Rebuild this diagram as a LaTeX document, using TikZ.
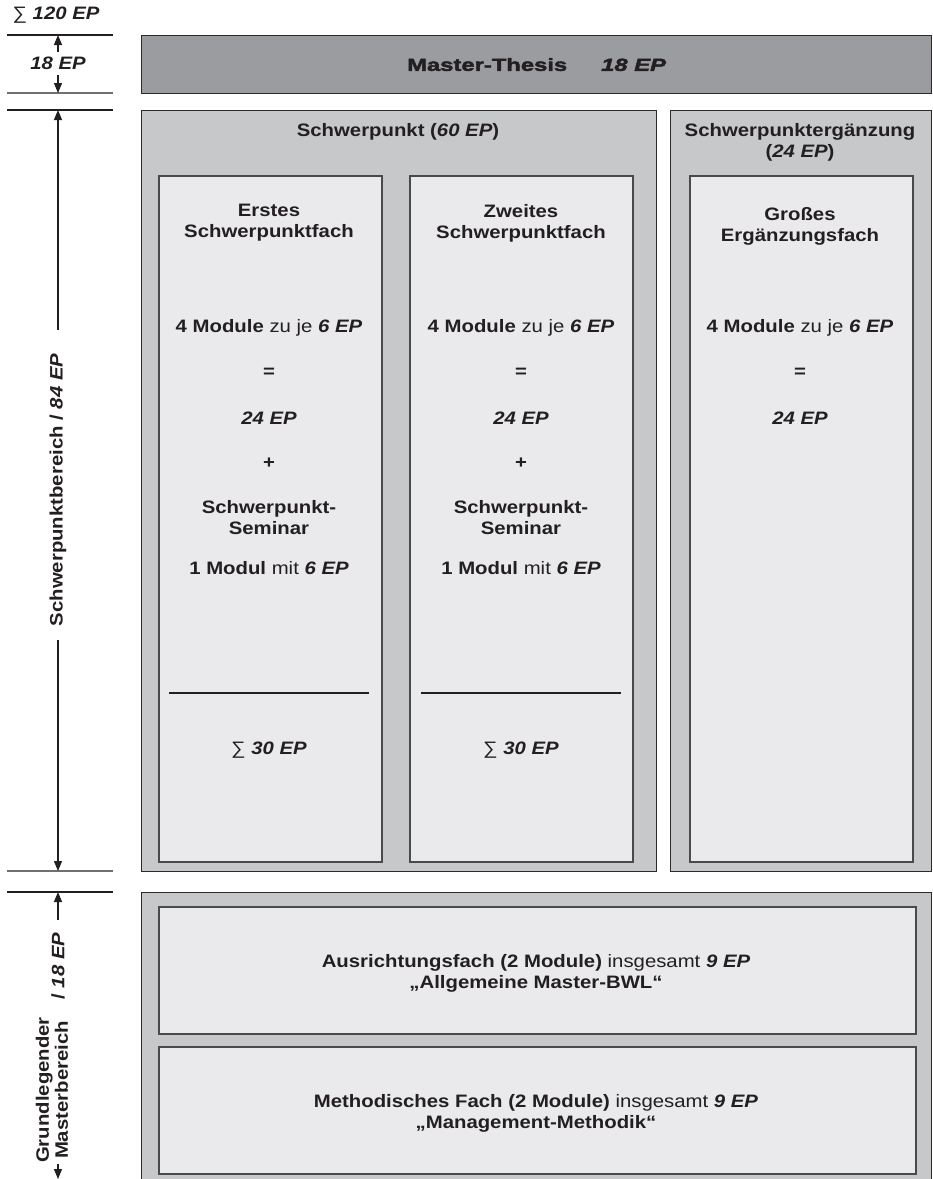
\documentclass[tikz,border=0pt]{standalone}
\usepackage{fontspec}
\setmainfont{Liberation Sans}[FakeStretch=1.13]
\newfontfamily\blackfont{Liberation Sans}[FakeStretch=1.36,FakeBold=2.5]
\usetikzlibrary{arrows.meta}
\definecolor{thesisc}{HTML}{9B9CA0}
\definecolor{outerc}{HTML}{C7C8CA}
\definecolor{innerc}{HTML}{EAEAEC}
\definecolor{linec}{HTML}{2A2A2C}
\definecolor{innerline}{HTML}{4A4A4D}
\definecolor{textc}{HTML}{231F20}
\definecolor{greyline}{HTML}{707072}
\newcommand{\EP}[1]{\textbf{\textit{#1~EP}}}
\begin{document}
\begin{tikzpicture}[x=1pt,y=-1pt,
  thesisbox/.style={draw=linec,fill=thesisc,line width=1.2pt,inner sep=0pt,anchor=north west},
  outerbox/.style={draw=linec,fill=outerc,line width=1.2pt,inner sep=0pt,anchor=north west},
  innerbox/.style={draw=innerline,fill=innerc,line width=1.6pt,inner sep=0pt,anchor=north west},
  lbl/.style={font=\fontsize{18}{21}\selectfont\bfseries,text=textc,align=center,inner sep=0pt},
  sideline/.style={draw=textc,line width=1.1pt},
  sumline/.style={draw=textc,line width=1.6pt},
  dimarrow/.style={-{Triangle[width=8pt,length=10pt]},line width=1.2pt,draw=textc},
  dimline/.style={line width=1.2pt,draw=textc}]
\useasboundingbox (0,0) rectangle (933,1179);

% left dimension lines
\draw[sideline] (7,35) -- (113,35);
\draw[sideline,draw=greyline] (7,93) -- (113,93);
\draw[sideline] (7,110) -- (113,110);
\draw[sideline,draw=greyline] (7,871) -- (113,871);
\draw[sideline] (7,892) -- (113,892);

% boxes
\node[thesisbox,minimum width=790,minimum height=58] (thesis) at (141,35) {};
\node[outerbox,minimum width=515,minimum height=761] (sp) at (141,110) {};
\node[outerbox,minimum width=261,minimum height=761] (spe) at (670,110) {};
\node[innerbox,minimum width=223,minimum height=686] (c1) at (158,175) {};
\node[innerbox,minimum width=223,minimum height=686] (c2) at (409,175) {};
\node[innerbox,minimum width=223,minimum height=686] (c3) at (689,175) {};
\node[outerbox,minimum width=790,minimum height=320] (gm) at (141,892) {};
\node[innerbox,minimum width=757,minimum height=127] (ga) at (158,906) {};
\node[innerbox,minimum width=757,minimum height=127] (gb) at (158,1046) {};

% thesis text
\node[lbl,font=\fontsize{17.5}{20}\selectfont\blackfont\bfseries] (thesistxt) at (thesis.center) {Master-Thesis\hspace{34pt}\itshape 18 EP};

% headings
\node[lbl] (sptitle) at (398,132) {Schwerpunkt (\textit{60 EP})};
\node[lbl] (spetitle) at (800,142) {Schwerpunktergänzung\\(\textit{24 EP})};

% column 1
\node[lbl] (c1a) at (269,223) {Erstes\\Schwerpunktfach};
\node[lbl] (c1b) at (269,328) {4 Module \mdseries zu je \EP{6}};
\node[lbl] (c1c) at (269,373) {=};
\node[lbl] (c1d) at (269,418) {\itshape 24 EP};
\node[lbl] (c1e) at (269,463) {+};
\node[lbl] (c1f) at (269,518) {Schwerpunkt-\\Seminar};
\node[lbl] (c1g) at (269,568) {1 Modul \mdseries mit \EP{6}};
\draw[sumline] (169,693) -- (369,693);
\node[lbl] (c1h) at (269,750) {\mdseries ∑ \EP{30}};

% column 2
\node[lbl] (c2a) at (521,223) {Zweites\\Schwerpunktfach};
\node[lbl] (c2b) at (521,328) {4 Module \mdseries zu je \EP{6}};
\node[lbl] (c2c) at (521,373) {=};
\node[lbl] (c2d) at (521,418) {\itshape 24 EP};
\node[lbl] (c2e) at (521,463) {+};
\node[lbl] (c2f) at (521,518) {Schwerpunkt-\\Seminar};
\node[lbl] (c2g) at (521,568) {1 Modul \mdseries mit \EP{6}};
\draw[sumline] (421,693) -- (621,693);
\node[lbl] (c2h) at (521,750) {\mdseries ∑ \EP{30}};

% column 3
\node[lbl] (c3a) at (800,226) {Großes\\Ergänzungsfach};
\node[lbl] (c3b) at (800,328) {4 Module \mdseries zu je \EP{6}};
\node[lbl] (c3c) at (800,373) {=};
\node[lbl] (c3d) at (800,418) {\itshape 24 EP};

% bottom texts
\node[lbl] (gatxt) at (536,973) {Ausrichtungsfach (2 Module) \mdseries insgesamt \EP{9}\\„Allgemeine Master-BWL“};
\node[lbl] (gbtxt) at (536,1113) {Methodisches Fach (2 Module) \mdseries insgesamt \EP{9}\\„Management-Methodik“};

% left labels
\node[lbl] (total) at (56,15) {\mdseries ∑ \EP{120}};
\node[lbl] (th18) at (58,63) {\itshape 18 EP};
\node[lbl,rotate=90] (spb) at (58,490) {Schwerpunktbereich / \itshape 84 EP};
\node[lbl,rotate=90] (gm18) at (58,966) {/ \itshape 18 EP};
\node[lbl,rotate=90,font=\fontsize{18}{19}\selectfont\bfseries] (gmb) at (52,1090) {Grundlegender\\Masterbereich};

% dimension arrows
\coordinate (d35) at (58,35);
\coordinate (d93) at (58,93);
\coordinate (d110) at (58,110);
\coordinate (d871) at (58,871);
\coordinate (d892) at (58,892);
\coordinate (d1179) at (58,1179);
\coordinate (s1) at (58,52);
\coordinate (s2) at (58,75);
\coordinate (s3) at (58,330);
\coordinate (s4) at (58,640);
\coordinate (s5) at (58,920);
\coordinate (s6) at (58,1164);
\draw[dimarrow] (s1) -- (d35);
\draw[dimarrow] (s2) -- (d93);
\draw[dimarrow] (s3) -- (d110);
\draw[dimarrow] (s4) -- (d871);
\draw[dimarrow] (s5) -- (d892);
\draw[dimarrow] (s6) -- (d1179);
\end{tikzpicture}
\end{document}
